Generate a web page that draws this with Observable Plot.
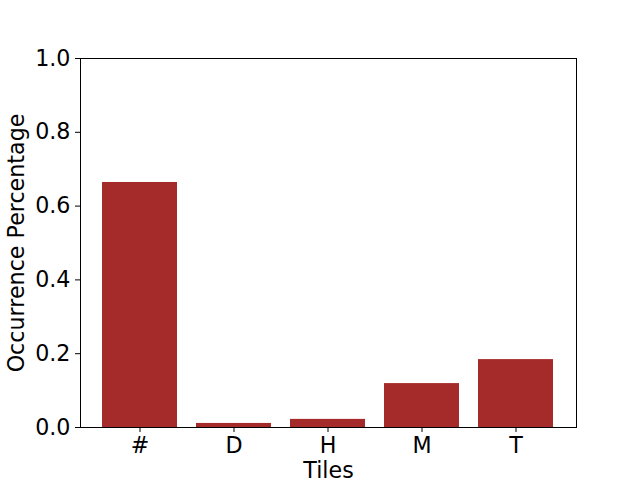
<!DOCTYPE html>
<html>
<head>
<meta charset="utf-8">
<script src="https://cdn.jsdelivr.net/npm/d3@7"></script>
<script src="https://cdn.jsdelivr.net/npm/@observablehq/plot@0.6"></script>
<style>
html,body{margin:0;padding:0;background:#fff;}
svg{display:block;}
#chart svg text{font-size:22.2px;font-family:"DejaVu Sans";fill:#000;}
</style>
</head>
<body>
<div id="chart"></div>
<script>
const tiles = ["#", "D", "H", "M", "T"];
const occurrence = [0.664, 0.011, 0.022, 0.119, 0.184];
const yTicks = [0, 0.2, 0.4, 0.6, 0.8, 1.0];

const data = tiles.map((t, i) => ({tile: t, value: occurrence[i]}));

const chart = Plot.plot({
  width: 640,
  height: 480,
  marginLeft: 80,
  marginRight: 64,
  marginTop: 58,
  marginBottom: 53,
  style: {fontFamily: "DejaVu Sans", fontSize: "22.2px", color: "#000", background: "#fff"},
  x: {domain: tiles, paddingInner: 0.2, paddingOuter: 0.22},
  y: {domain: [0, 1]},
  marks: [
    Plot.barY(data, {x: "tile", y: "value", fill: "#a52a2a"}),
    Plot.frame({stroke: "#000", strokeWidth: 1}),
    Plot.axisX({tickSize: 5, tickPadding: 5, label: "Tiles", labelAnchor: "center", labelOffset: 50, labelArrow: "none"}),
    Plot.axisY({ticks: yTicks, tickFormat: d3.format(".1f"), tickSize: 5, tickPadding: 5, label: "Occurrence Percentage", labelAnchor: "center", labelOffset: 72, labelArrow: "none"})
  ]
});
document.getElementById("chart").appendChild(chart);
</script>
</body>
</html>
